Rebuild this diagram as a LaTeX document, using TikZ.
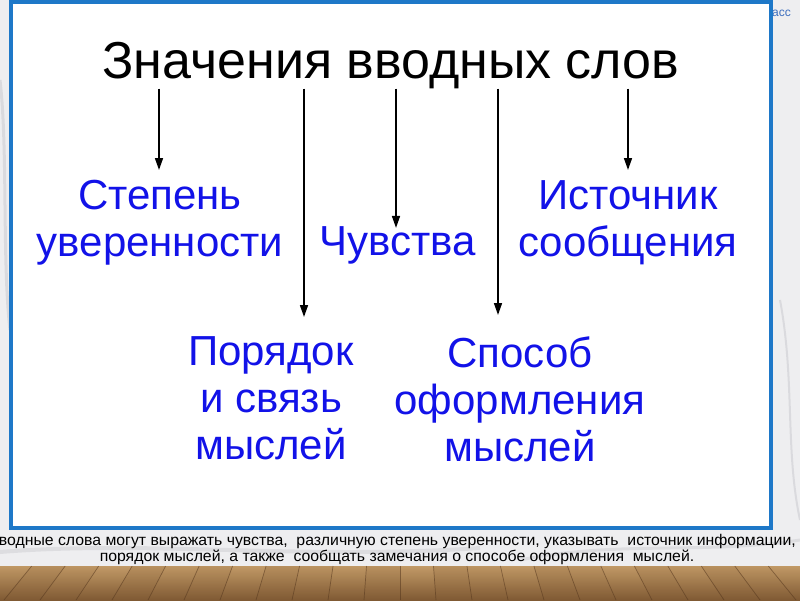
\documentclass[tikz,border=0pt]{standalone}
\usepackage{fontspec}
\setmainfont{Liberation Sans}
\usetikzlibrary{arrows.meta}
\definecolor{bordblue}{RGB}{30,120,200}
\definecolor{txtblue}{RGB}{18,18,232}
\definecolor{marble}{RGB}{238,238,240}
\definecolor{veins}{RGB}{205,205,210}
\definecolor{woodlight}{RGB}{196,156,104}
\definecolor{wooddark}{RGB}{128,90,52}
\definecolor{woodline}{RGB}{85,55,30}
\definecolor{tagblue}{RGB}{60,110,190}
\tikzset{
  titletext/.style={font=\fontsize{52}{60}\selectfont, text=black, inner sep=0pt},
  bluetext/.style={font=\fontsize{42}{47}\selectfont, text=txtblue, inner sep=0pt, align=center},
  notetext/.style={font=\fontsize{15.5}{16}\selectfont, text=black, inner sep=0pt},
  arr/.style={draw=black, line width=1.6pt, -{Triangle[length=12pt,width=8pt]}},
}
\begin{document}
\begin{tikzpicture}[x=1pt,y=-1pt]
\useasboundingbox (0,0) rectangle (800,600);
% background (marble)
\fill[marble] (0,0) rectangle (800,600);
\draw[veins, line width=3pt, opacity=0.6] (0,80) .. controls (8,150) and (2,260) .. (10,330);
\draw[veins, line width=2pt, opacity=0.6] (780,300) .. controls (795,380) and (785,450) .. (800,520);
\draw[veins, line width=4pt, opacity=0.5] (0,552) .. controls (150,540) and (300,560) .. (480,548);
\draw[veins, line width=3pt, opacity=0.5] (520,560) .. controls (620,540) and (700,555) .. (800,540);
% wood floor
\shade[top color=woodlight, bottom color=wooddark] (0,566) rectangle (800,600);
\foreach \k/\c in {-13/60,-12/85,-11/50,-10/75,-9/95,-8/55,-7/80,-6/65,-5/90,-4/50,-3/70,-2/85,-1/60,0/95,1/55,2/75,3/85,4/50,5/70,6/90,7/60,8/80,9/55,10/75,11/90,12/60} {
  \fill[wooddark, opacity={(100-\c)/250}] ({400+\k*36*0.93},566) -- ({400+(\k+1)*36*0.93},566) -- ({400+(\k+1)*36},600) -- ({400+\k*36},600) -- cycle;
  \draw[woodline, line width=0.7pt, opacity=0.55] ({400+\k*36*0.93},566) -- ({400+\k*36},600);
}
% corner tag
\node[font=\fontsize{12}{14}\selectfont, text=tagblue, anchor=base west, inner sep=0pt] (tag) at (772,16) {асс};
% main white box
\draw[bordblue, line width=3.5pt, fill=white] (11,2) rectangle (771,528);
% title
\node[titletext, anchor=base] (title) at (391,78) {Значения вводных слов};
% categories
\node[bluetext, anchor=north] (stepen) at (160,180) {Степень\\уверенности};
\node[bluetext, anchor=base] (chuv) at (398,255) {Чувства};
\node[bluetext, anchor=north] (istoch) at (628,180) {Источник\\сообщения};
\node[bluetext, anchor=north] (poryad) at (271,336) {Порядок\\и связь\\мыслей};
\node[bluetext, anchor=north] (sposob) at (520,336) {Способ\\оформления\\мыслей};
% arrow columns
\coordinate (c1) at (159,0);
\coordinate (c2) at (304,0);
\coordinate (c3) at (396,0);
\coordinate (c4) at (498,0);
\coordinate (c5) at (628,0);
\draw[arr, shorten >=10pt] (c1 |- title.south) -- (c1 |- stepen.north);
\draw[arr, shorten >=19pt] (c2 |- title.south) -- (c2 |- poryad.north);
\draw[arr, shorten >=-2pt] (c3 |- title.south) -- (c3 |- chuv.north);
\draw[arr, shorten >=21pt] (c4 |- title.south) -- (c4 |- sposob.north);
\draw[arr, shorten >=10pt] (c5 |- title.south) -- (c5 |- istoch.north);
% bottom note
\node[notetext, anchor=base east, xscale=1.02] (note1) at (796,545) {водные слова могут выражать чувства,~ различную степень уверенности, указывать~ источник информации,};
\node[notetext, anchor=base, xscale=1.02] (note2) at (397,561) {порядок мыслей, а также~ сообщать замечания о способе оформления~ мыслей.};
\end{tikzpicture}
\end{document}
